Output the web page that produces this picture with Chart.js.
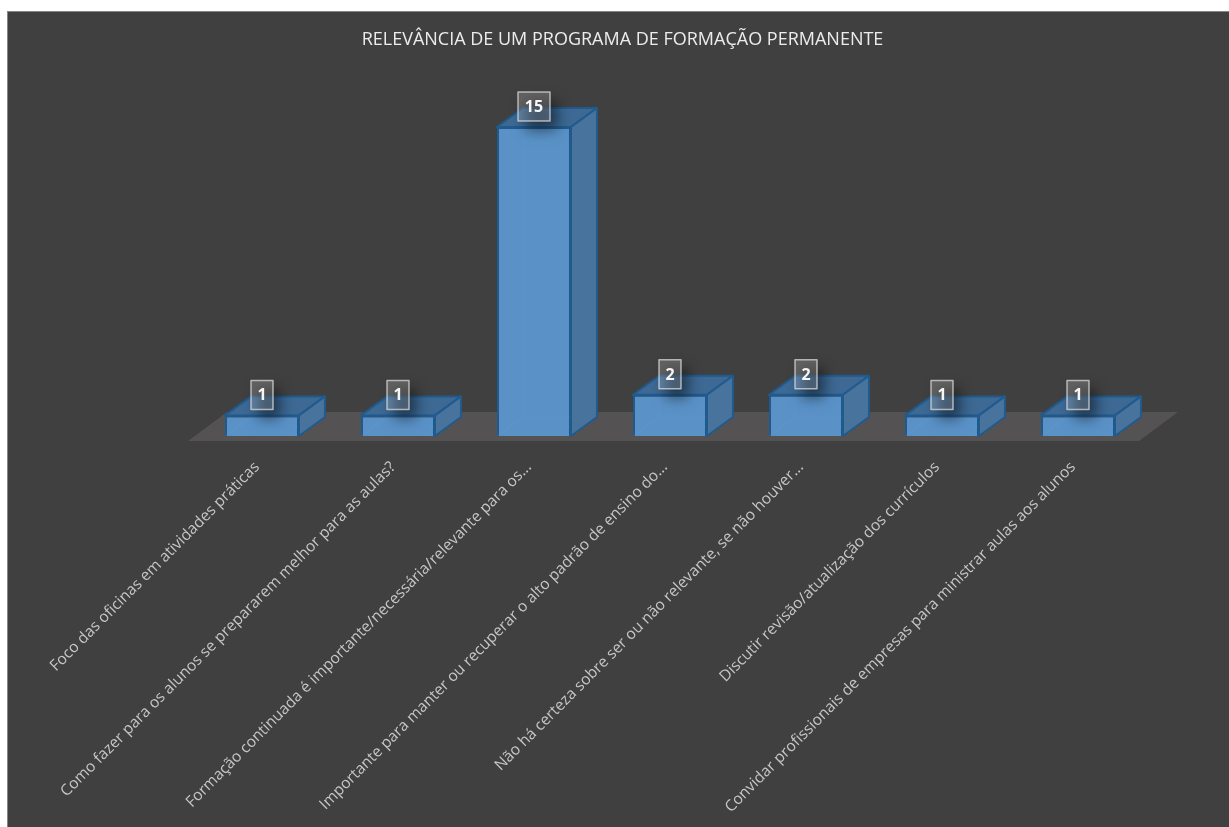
<!DOCTYPE html>
<html>
<head>
<meta charset="utf-8">
<title>Relevância de um programa de formação permanente</title>
<script src="https://cdn.jsdelivr.net/npm/chart.js@4"></script>
<style>
  html, body { margin: 0; padding: 0; background: #fff; overflow: hidden; }
  #wrap { position: absolute; left: 0; top: 0; width: 1229px; height: 827px; }
</style>
</head>
<body>
<div id="wrap"><canvas id="mycanvas" width="1229" height="827"></canvas></div>
<script>
var chartTitle = 'RELEVÂNCIA DE UM PROGRAMA DE FORMAÇÃO PERMANENTE';
var categories = [
  'Foco das oficinas em atividades práticas',
  'Como fazer para os alunos se prepararem melhor para as aulas?',
  'Formação continuada é importante/necessária/relevante para os...',
  'Importante para manter ou recuperar o alto padrão de ensino do...',
  'Não há certeza sobre ser ou não relevante, se não houver...',
  'Discutir revisão/atualização dos currículos',
  'Convidar profissionais de empresas para ministrar aulas aos alunos'
];
var respostas = [1, 1, 15, 2, 2, 1, 1];

// how far the fake 3d depth goes, back and up
var depthX = 26;
var depthY = -19;

function poly(ctx, pts, fill, stroke) {
  ctx.beginPath();
  ctx.moveTo(pts[0][0], pts[0][1]);
  for (var i = 1; i < pts.length; i++) ctx.lineTo(pts[i][0], pts[i][1]);
  ctx.closePath();
  ctx.fillStyle = fill;
  ctx.fill();
  if (stroke) {
    ctx.lineWidth = 2;
    ctx.lineJoin = 'round';
    ctx.strokeStyle = stroke;
    ctx.stroke();
  }
}

var panel3d = {
  id: 'panel3d',
  afterLayout: function(chart) {
    // title is centred on the dark panel, not on the plot
    chart.titleBlock.left = 16;
    chart.titleBlock.right = 1229;
  },
  beforeDraw: function(chart) {
    var ctx = chart.ctx;
    ctx.save();
    ctx.fillStyle = '#404040';
    ctx.fillRect(7, 11, chart.width - 7, chart.height - 11);
    ctx.fillStyle = '#858585';
    ctx.fillRect(7, 11, 1, chart.height - 11);
    ctx.fillRect(7, 11, chart.width - 7, 1);
    ctx.restore();
  },
  beforeDatasetsDraw: function(chart) {
    // floor under the bars
    var ctx = chart.ctx, a = chart.chartArea;
    var l = a.left - 6, r = a.right - 7, b = a.bottom + 5, h = -29, s = 39;
    ctx.save();
    poly(ctx, [[l, b], [r, b], [r + s, b + h], [l + s, b + h]], '#545252');
    ctx.restore();
  },
  afterDatasetsDraw: function(chart) {
    var ctx = chart.ctx;
    var bars = chart.getDatasetMeta(0).data;
    ctx.save();
    bars.forEach(function(bar) {
      var p = bar.getProps(['x', 'y', 'base', 'width'], true);
      var l = p.x - p.width / 2, r = p.x + p.width / 2;
      // the back edges show faintly through the front face
      ctx.strokeStyle = 'rgba(120,175,225,0.14)';
      ctx.lineWidth = 1;
      ctx.beginPath();
      ctx.moveTo(l, p.base);
      ctx.lineTo(l + depthX, p.base + depthY);
      ctx.lineTo(l + depthX, p.y);
      ctx.moveTo(l + depthX, p.base + depthY);
      ctx.lineTo(r, p.base + depthY);
      ctx.stroke();
      // top and side faces
      poly(ctx, [[l, p.y], [r, p.y], [r + depthX, p.y + depthY], [l + depthX, p.y + depthY]], '#3d6994', '#215a8c');
      poly(ctx, [[r, p.y], [r + depthX, p.y + depthY], [r + depthX, p.base + depthY], [r, p.base]], '#47739d', '#215a8c');
    });
    // value boxes
    ctx.font = 'bold 16px "Open Sans"';
    ctx.textAlign = 'center';
    ctx.textBaseline = 'middle';
    bars.forEach(function(bar, i) {
      var p = bar.getProps(['x', 'y'], true);
      var txt = String(respostas[i]);
      var w = txt.length > 1 ? 32 : 22, h = 29;
      var cx = p.x, cy = p.y - 20.5;
      // soft shadow, cast from a shape parked off the canvas
      ctx.save();
      ctx.shadowColor = 'rgba(0,0,0,0.5)';
      ctx.shadowBlur = 14;
      ctx.shadowOffsetX = 3000 + 7;
      ctx.shadowOffsetY = 9;
      ctx.fillStyle = '#000';
      ctx.fillRect(cx - w / 2 - 3000, cy - h / 2, w, h);
      ctx.restore();
      ctx.fillStyle = 'rgba(255,255,255,0.18)';
      ctx.fillRect(cx - w / 2, cy - h / 2, w, h);
      ctx.lineWidth = 1.5;
      ctx.strokeStyle = 'rgba(217,217,217,0.75)';
      ctx.strokeRect(cx - w / 2, cy - h / 2, w, h);
      ctx.fillStyle = '#f6f6f6';
      ctx.fillText(txt, cx, cy + 1);
    });
    ctx.restore();
  }
};

var ctx = document.getElementById('mycanvas').getContext('2d');
var mycanvas = new Chart(ctx, {
  type: 'bar',
  plugins: [panel3d],
  data: {
    labels: categories,
    datasets: [{
      data: respostas,
      backgroundColor: '#5a92c8',
      borderColor: '#215a8c',
      borderWidth: 2,
      categoryPercentage: 1,
      barPercentage: 0.544
    }]
  },
  options: {
    responsive: false,
    animation: false,
    layout: { padding: { left: 194, right: 83, top: 0, bottom: 0 } },
    plugins: {
      legend: { display: false },
      tooltip: { enabled: false },
      title: {
        display: true,
        text: chartTitle,
        color: '#ececec',
        font: { family: '"Open Sans"', size: 18, weight: 'normal' },
        padding: { top: 29, bottom: 76.4 }
      }
    },
    scales: {
      y: { display: false, min: 0, max: 15 },
      x: {
        grid: { display: false },
        border: { display: false },
        afterFit: function(scale) { scale.height = 391; },
        ticks: {
          autoSkip: false,
          minRotation: 45,
          maxRotation: 45,
          padding: 14,
          labelOffset: -5,
          color: '#c6c6c6',
          font: { family: '"Open Sans"', size: 15.5 }
        }
      }
    }
  }
});
</script>
</body>
</html>
